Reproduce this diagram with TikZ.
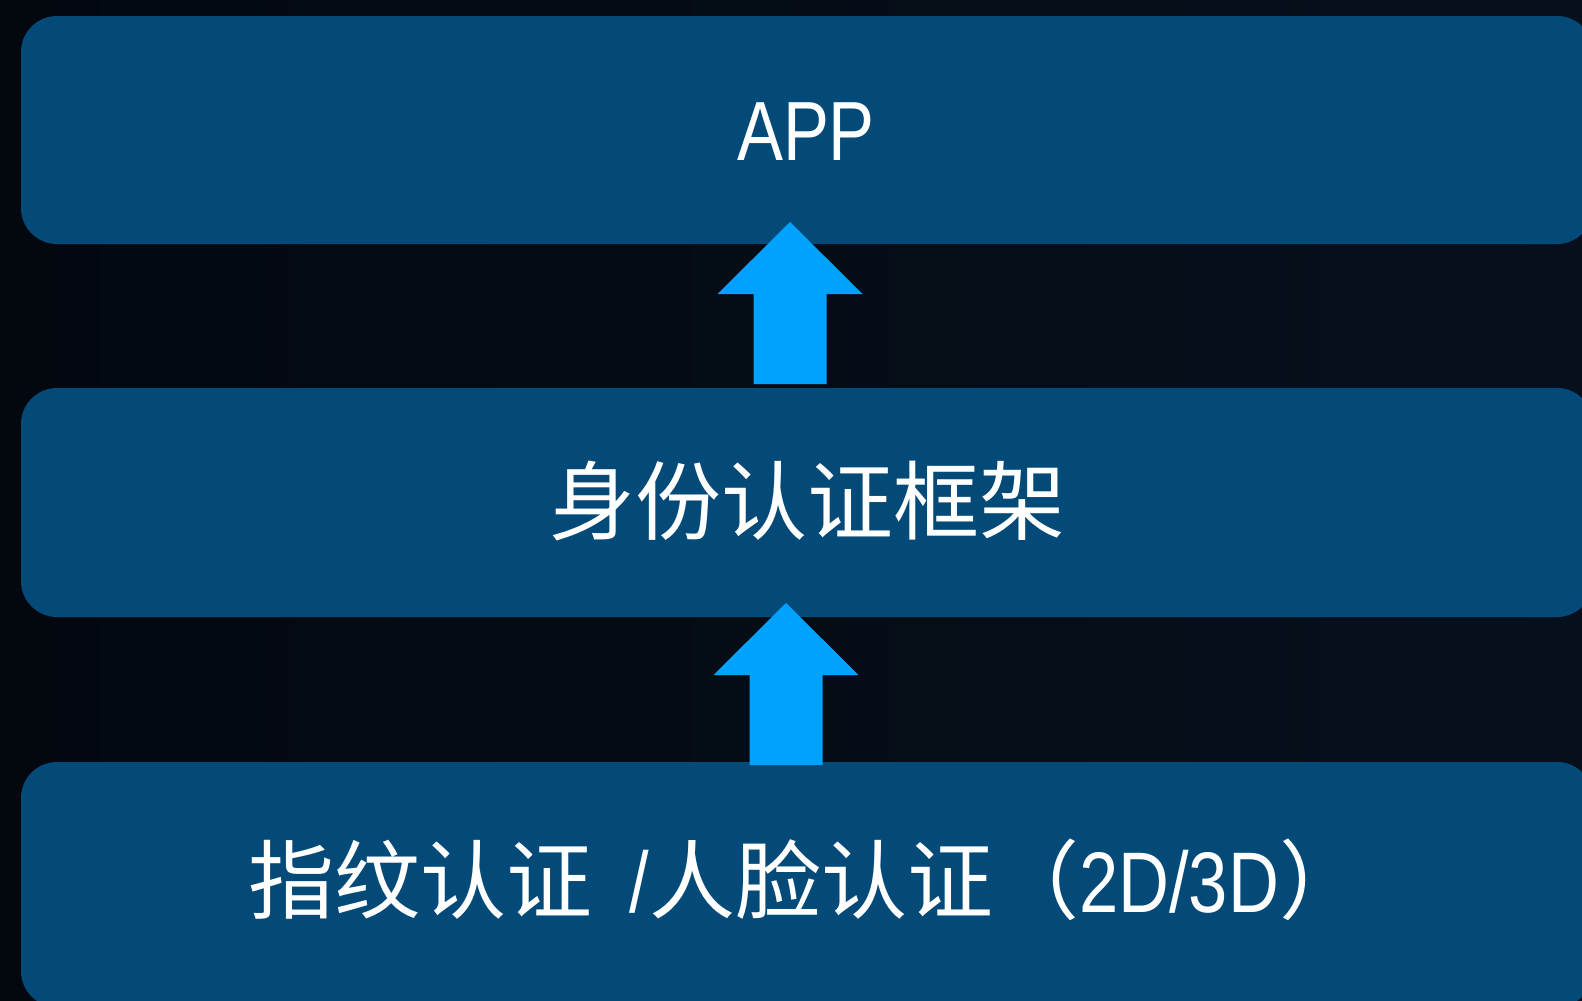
\documentclass[tikz,border=0pt]{standalone}
\usepackage{fontspec}
\newfontfamily\cjk{Noto Sans CJK SC}
\newfontfamily\lat[FakeStretch=0.82]{Liberation Sans}
\definecolor{bgleft}{HTML}{03080F}
\definecolor{bgright}{HTML}{06101D}
\definecolor{boxblue}{HTML}{034A78}
\definecolor{arrowblue}{HTML}{00A2FD}
\begin{document}
\begin{tikzpicture}[x=1pt,y=-1pt,
  layerbox/.style={fill=boxblue,draw=none,rounded corners=36pt,inner sep=0pt,text=white},
  bigarrow/.pic={\fill[arrowblue] (0,0) -- (72.5,72) -- (36.5,72) -- (36.5,162) -- (-36.5,162) -- (-36.5,72) -- (-72.5,72) -- cycle;}]
\useasboundingbox (0,0) rectangle (1582,1001);
\clip (0,0) rectangle (1582,1001);
\shade[left color=bgleft,right color=bgright] (0,0) rectangle (1582,1001);
% layer boxes
\node[layerbox,minimum width=1572pt,minimum height=228pt] (app) at (807,130) {};
\node[layerbox,minimum width=1572pt,minimum height=229pt] (auth) at (807,502.5) {};
\node[layerbox,minimum width=1572pt,minimum height=245pt] (bio) at (807,884.5) {};
% texts
\node[text=white,inner sep=0pt] (apptext) at (806,132) {\lat\fontsize{84}{100}\selectfont APP};
\node[text=white,inner sep=0pt] (authtext) at (807.5,501) {\cjk\fontsize{86}{100}\selectfont 身份认证框架};
\node[text=white,inner sep=0pt] (biotext) at (807,880) {\fontsize{86}{100}\selectfont{\cjk 指纹认证}{\lat\ \hspace{17pt}/}{\cjk 人脸认证（}{\lat 2D/3D}{\cjk ）}};
% arrows between layers
\coordinate (tipA) at (790,222);
\coordinate (tipB) at (786,603);
\pic (arrowA) at (tipA) {bigarrow};
\pic (arrowB) at (tipB) {bigarrow};
\end{tikzpicture}
\end{document}
